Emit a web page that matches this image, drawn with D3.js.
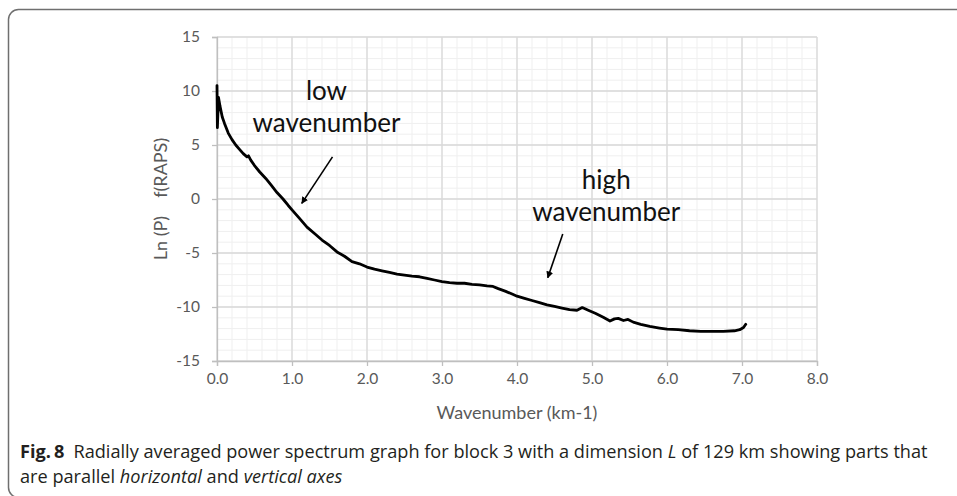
<!DOCTYPE html>
<html>
<head>
<meta charset="utf-8">
<script src="https://cdn.jsdelivr.net/npm/d3@7/dist/d3.min.js"></script>
<style>
  body { margin: 0; background: #fff; }
  svg { display: block; }
</style>
</head>
<body>
<div id="chart"></div>
<script>
// values
const wavenumber = [0.00, 0.005, 0.02, 0.04, 0.07, 0.10, 0.15, 0.20, 0.25, 0.30, 0.35, 0.40, 0.42, 0.45, 0.50,
  0.57, 0.65, 0.72, 0.80, 0.88, 0.95, 1.00, 1.10, 1.20, 1.30, 1.40, 1.50, 1.60, 1.70, 1.80, 1.90,
  2.00, 2.10, 2.20, 2.30, 2.40, 2.50, 2.60, 2.70, 2.80, 2.90, 3.00, 3.10, 3.20, 3.30, 3.40, 3.50,
  3.60, 3.68, 3.75, 3.85, 3.95, 4.00, 4.10, 4.20, 4.30, 4.40, 4.50, 4.60, 4.70, 4.80, 4.87, 4.95,
  5.05, 5.15, 5.24, 5.30, 5.35, 5.42, 5.48, 5.55, 5.65, 5.77, 5.90, 6.00, 6.15, 6.30, 6.45, 6.60,
  6.75, 6.90, 6.97, 7.02, 7.05];
const lnP = [10.5, 6.6, 9.4, 8.6, 7.6, 7.0, 6.1, 5.5, 5.0, 4.6, 4.2, 3.9, 4.0, 3.6, 3.1,
  2.5, 1.9, 1.3, 0.6, 0.0, -0.6, -1.0, -1.8, -2.6, -3.2, -3.8, -4.3, -4.9, -5.3, -5.8, -6.0,
  -6.3, -6.5, -6.65, -6.8, -6.95, -7.05, -7.15, -7.2, -7.35, -7.5, -7.65, -7.75, -7.8, -7.8, -7.9, -7.95,
  -8.05, -8.1, -8.3, -8.55, -8.85, -9.0, -9.2, -9.4, -9.6, -9.8, -9.95, -10.1, -10.25, -10.3, -10.05, -10.3,
  -10.6, -10.95, -11.3, -11.1, -11.05, -11.25, -11.15, -11.4, -11.6, -11.8, -11.95, -12.05, -12.1, -12.2, -12.25, -12.25,
  -12.25, -12.2, -12.1, -11.9, -11.6];
const xTicks = [0, 1, 2, 3, 4, 5, 6, 7, 8];
const yTicks = [-15, -10, -5, 0, 5, 10, 15];
const xTitle = "Wavenumber (km-1)";
const yTitle = "Ln (P)\u2003 f(RAPS)";
const noteLow = ["low", "wavenumber"];
const noteHigh = ["high", "wavenumber"];

const W = 957, H = 496;
const svg = d3.select("#chart").append("svg").attr("width", W).attr("height", H);

// card border (only top and left edges visible in the crop)
svg.append("rect").attr("x", 8.5).attr("y", 9.5).attr("width", 1000).attr("height", 488)
  .attr("rx", 10).attr("fill", "none").attr("stroke", "#6f6f6f").attr("stroke-width", 1.5);

const x = d3.scaleLinear().domain([0, 8]).range([217, 817]);
const y = d3.scaleLinear().domain([-15, 15]).range([361, 37]);

const font = "Lato, 'Open Sans', sans-serif";

// minor grid
const g = svg.append("g");
g.selectAll(".vminor").data(d3.range(0, 8.001, 0.2)).join("line")
  .attr("x1", d => x(d)).attr("x2", d => x(d)).attr("y1", y(15)).attr("y2", y(-15))
  .attr("stroke", "#efefef").attr("stroke-width", 1);
g.selectAll(".hminor").data(d3.range(-15, 15.001, 1)).join("line")
  .attr("y1", d => y(d)).attr("y2", d => y(d)).attr("x1", x(0)).attr("x2", x(8))
  .attr("stroke", "#efefef").attr("stroke-width", 1);
// major grid
g.selectAll(".vmajor").data(xTicks).join("line")
  .attr("x1", d => x(d)).attr("x2", d => x(d)).attr("y1", y(15)).attr("y2", y(-15))
  .attr("stroke", "#d9d9d9").attr("stroke-width", 1.3);
g.selectAll(".hmajor").data(yTicks).join("line")
  .attr("y1", d => y(d)).attr("y2", d => y(d)).attr("x1", x(0)).attr("x2", x(8))
  .attr("stroke", "#d9d9d9").attr("stroke-width", 1.3);

// axes
const xAxis = svg.append("g").attr("transform", `translate(0,${y(-15)})`)
  .call(d3.axisBottom(x).tickValues(xTicks).tickFormat(d3.format(".1f")).tickSize(5).tickPadding(7));
const yAxis = svg.append("g").attr("transform", `translate(${x(0)},0)`)
  .call(d3.axisLeft(y).tickValues(yTicks).tickFormat(d => String(d)).tickSize(5).tickPadding(12));
[xAxis, yAxis].forEach(a => {
  a.select(".domain").attr("stroke", "#bfbfbf").attr("stroke-width", 1.3);
  a.selectAll(".tick line").attr("stroke", "#bfbfbf").attr("stroke-width", 1.3);
  a.selectAll(".tick text").attr("fill", "#595959").style("font-family", font).style("font-size", "15.5px");
});

// axis titles
svg.append("text").attr("x", (x(0) + x(8)) / 2).attr("y", 419).attr("text-anchor", "middle")
  .attr("fill", "#595959").style("font-family", font).style("font-size", "18px").text(xTitle);
svg.append("text").attr("transform", `translate(167,${y(0)}) rotate(-90)`).attr("text-anchor", "middle")
  .attr("fill", "#595959").style("font-family", font).style("font-size", "18px").style("white-space", "pre").text(yTitle);

// spectrum line
const pts = wavenumber.map((w, i) => [w, lnP[i]]);
svg.append("path").datum(pts)
  .attr("d", d3.line().x(d => x(d[0])).y(d => y(d[1])))
  .attr("fill", "none").attr("stroke", "#000").attr("stroke-width", 2.8)
  .attr("stroke-linejoin", "round").attr("stroke-linecap", "round");

// annotations
svg.append("defs").append("marker").attr("id", "head").attr("viewBox", "0 0 10 10")
  .attr("refX", 9).attr("refY", 5).attr("markerWidth", 7).attr("markerHeight", 7)
  .attr("orient", "auto").attr("markerUnits", "userSpaceOnUse")
  .append("path").attr("d", "M0,0L10,5L0,10z").attr("fill", "#000");

function note(lines, cx, by, from, to) {
  const t = svg.append("text").attr("text-anchor", "middle").attr("fill", "#111")
    .style("font-family", font).style("font-size", "26px");
  lines.forEach((s, i) => t.append("tspan").attr("x", x(cx)).attr("y", y(by) + i * 32).text(s));
  svg.append("line").attr("x1", x(from[0])).attr("y1", y(from[1])).attr("x2", x(to[0])).attr("y2", y(to[1]))
    .attr("stroke", "#000").attr("stroke-width", 1.6).attr("marker-end", "url(#head)");
}
note(noteLow, 1.46, 9.2, [1.54, 3.9], [1.13, -0.4]);
note(noteHigh, 5.19, 0.9, [4.61, -3.24], [4.41, -7.3]);

// caption, condensed to the reference line width
const cap = svg.append("g").attr("transform", "translate(20,0)");
const l1 = cap.append("text").attr("y", 458).attr("fill", "#231f20")
  .style("font-family", "'Open Sans', sans-serif").style("font-size", "17.5px");
l1.append("tspan").style("font-weight", "bold").text("Fig.\u20098");
l1.append("tspan").text("\u2002Radially averaged power spectrum graph for block 3 with a dimension ");
l1.append("tspan").style("font-style", "italic").text("L");
l1.append("tspan").text(" of 129 km showing parts that");
const l2 = cap.append("text").attr("y", 483).attr("fill", "#231f20")
  .style("font-family", "'Open Sans', sans-serif").style("font-size", "17.5px");
l2.append("tspan").text("are parallel ");
l2.append("tspan").style("font-style", "italic").text("horizontal");
l2.append("tspan").text(" and ");
l2.append("tspan").style("font-style", "italic").text("vertical axes");
const k = 908 / l1.node().getComputedTextLength();
cap.attr("transform", `translate(20,0) scale(${k},1)`);
</script>
</body>
</html>
